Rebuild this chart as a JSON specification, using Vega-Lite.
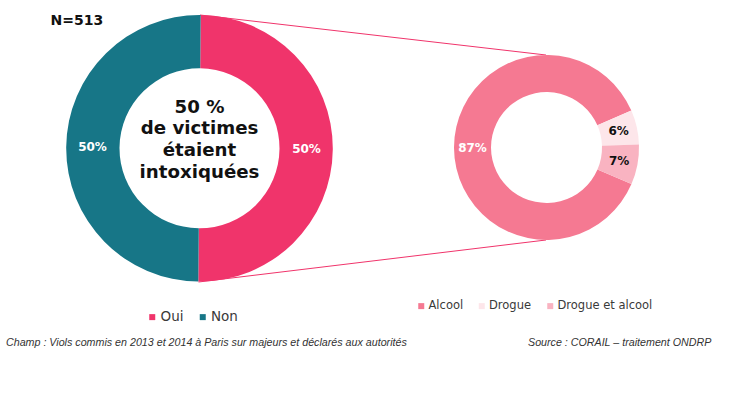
{
  "$schema": "https://vega.github.io/schema/vega-lite/v6.json",
  "width": 742,
  "height": 399,
  "autosize": {"type": "fit", "contains": "padding"},
  "padding": 0,
  "background": "white",
  "config": {"view": {"stroke": null}},
  "datasets": {
    "intox": [
      {"reponse": "Oui", "part": 50, "ordre": 1, "etiquette": "50%"},
      {"reponse": "Non", "part": 50, "ordre": 2, "etiquette": "50%"}
    ],
    "substance": [
      {"type": "Alcool", "part": 87, "ordre": 1, "etiquette": "87%"},
      {"type": "Drogue", "part": 6, "ordre": 2, "etiquette": "6%"},
      {"type": "Drogue et alcool", "part": 7, "ordre": 3, "etiquette": "7%"}
    ],
    "textes": [
      {"cle": "centre", "texte": "50 %\nde victimes\nétaient\nintoxiquées"},
      {"cle": "n", "texte": "N=513"},
      {"cle": "champ", "texte": "Champ : Viols commis en 2013 et 2014 à Paris sur majeurs et déclarés aux autorités"},
      {"cle": "source", "texte": "Source : CORAIL – traitement ONDRP"}
    ]
  },
  "resolve": {
    "scale": {"theta": "independent", "color": "independent"},
    "legend": {"color": "independent"}
  },
  "layer": [
    {
      "data": {"values": [{"lien": "haut"}]},
      "mark": {"type": "rule", "color": "#F0346B", "strokeWidth": 1},
      "encoding": {
        "x": {"datum": 200, "type": "quantitative", "scale": {"domain": [0, 742], "nice": false, "zero": false}, "axis": null},
        "y": {"datum": 15, "type": "quantitative", "scale": {"domain": [0, 399], "nice": false, "zero": false, "reverse": true}, "axis": null},
        "x2": {"datum": 546},
        "y2": {"datum": 55}
      }
    },
    {
      "data": {"values": [{"lien": "bas"}]},
      "mark": {"type": "rule", "color": "#F0346B", "strokeWidth": 1},
      "encoding": {
        "x": {"datum": 198.5, "type": "quantitative", "scale": {"domain": [0, 742], "nice": false, "zero": false}, "axis": null},
        "y": {"datum": 282, "type": "quantitative", "scale": {"domain": [0, 399], "nice": false, "zero": false, "reverse": true}, "axis": null},
        "x2": {"datum": 546},
        "y2": {"datum": 240}
      }
    },
    {
      "data": {"name": "intox"},
      "encoding": {
        "x": {"datum": 199.5, "type": "quantitative", "scale": {"domain": [0, 742], "nice": false, "zero": false}, "axis": null},
        "y": {"datum": 148.3, "type": "quantitative", "scale": {"domain": [0, 399], "nice": false, "zero": false, "reverse": true}, "axis": null},
        "theta": {"field": "part", "type": "quantitative", "stack": true, "scale": {"range": [0.009, 6.2922]}},
        "order": {"field": "ordre", "type": "quantitative"}
      },
      "layer": [
        {
          "mark": {"type": "arc", "radius": 133.3, "radius2": 80},
          "encoding": {
            "color": {
              "field": "reponse",
              "type": "nominal",
              "scale": {"domain": ["Oui", "Non"], "range": ["#F0346B", "#177687"]},
              "legend": {
                "title": null,
                "orient": "none",
                "direction": "horizontal",
                "legendX": 145.5,
                "legendY": 310,
                "padding": 0,
                "symbolType": "square",
                "symbolSize": 36,
                "symbolStrokeWidth": 0,
                "labelFont": "DejaVu Sans",
                "labelFontSize": 13.5,
                "labelColor": "#3a3a3a",
                "labelOffset": 1.5,
                "columnPadding": 12.5
              }
            }
          }
        },
        {
          "mark": {"type": "text", "radius": 107, "font": "DejaVu Sans", "fontWeight": "bold", "fontSize": 12, "color": "white", "align": "center", "baseline": "middle"},
          "encoding": {"text": {"field": "etiquette"}}
        }
      ]
    },
    {
      "data": {"name": "substance"},
      "encoding": {
        "x": {"datum": 546.5, "type": "quantitative", "scale": {"domain": [0, 742], "nice": false, "zero": false}, "axis": null},
        "y": {"datum": 147.5, "type": "quantitative", "scale": {"domain": [0, 399], "nice": false, "zero": false, "reverse": true}, "axis": null},
        "theta": {"field": "part", "type": "quantitative", "stack": true, "scale": {"range": [1.9775, 8.2607]}},
        "order": {"field": "ordre", "type": "quantitative"}
      },
      "layer": [
        {
          "mark": {"type": "arc", "radius": 92.5, "radius2": 55.5},
          "encoding": {
            "color": {
              "field": "type",
              "type": "nominal",
              "scale": {"domain": ["Alcool", "Drogue", "Drogue et alcool"], "range": ["#F57992", "#FDE6EA", "#F9B3C1"]},
              "legend": {
                "title": null,
                "orient": "none",
                "direction": "horizontal",
                "legendX": 415.5,
                "legendY": 300,
                "padding": 0,
                "symbolType": "square",
                "symbolSize": 36,
                "symbolStrokeWidth": 0,
                "labelFont": "DejaVu Sans",
                "labelFontSize": 11.5,
                "labelColor": "#3a3a3a",
                "labelOffset": 1.5,
                "columnPadding": 12.5
              }
            }
          }
        },
        {
          "mark": {"type": "text", "radius": 74, "font": "DejaVu Sans", "fontWeight": "bold", "fontSize": 12, "align": "center", "baseline": "middle"},
          "encoding": {
            "text": {"field": "etiquette"},
            "color": {"condition": {"test": "datum.type === 'Alcool'", "value": "white"}, "value": "#111111"}
          }
        }
      ]
    },
    {
      "data": {"name": "textes"},
      "transform": [{"filter": "datum.cle === 'centre'"}],
      "mark": {"type": "text", "font": "DejaVu Sans", "fontWeight": "bold", "fontSize": 18.2, "lineHeight": 21.7, "lineBreak": "\n", "color": "#111111", "align": "center", "baseline": "middle"},
      "encoding": {
        "x": {"datum": 199.5, "type": "quantitative", "scale": {"domain": [0, 742], "nice": false, "zero": false}, "axis": null},
        "y": {"datum": 107.5, "type": "quantitative", "scale": {"domain": [0, 399], "nice": false, "zero": false, "reverse": true}, "axis": null},
        "text": {"field": "texte"}
      }
    },
    {
      "data": {"name": "textes"},
      "transform": [{"filter": "datum.cle === 'n'"}],
      "mark": {"type": "text", "font": "DejaVu Sans", "fontWeight": "bold", "fontSize": 14, "color": "#111111", "align": "left", "baseline": "middle"},
      "encoding": {
        "x": {"datum": 50.5, "type": "quantitative", "scale": {"domain": [0, 742], "nice": false, "zero": false}, "axis": null},
        "y": {"datum": 21, "type": "quantitative", "scale": {"domain": [0, 399], "nice": false, "zero": false, "reverse": true}, "axis": null},
        "text": {"field": "texte"}
      }
    },
    {
      "data": {"name": "textes"},
      "transform": [{"filter": "datum.cle === 'champ'"}],
      "mark": {"type": "text", "font": "Liberation Sans", "fontStyle": "italic", "fontSize": 10.7, "color": "#333333", "align": "left", "baseline": "middle"},
      "encoding": {
        "x": {"datum": 6, "type": "quantitative", "scale": {"domain": [0, 742], "nice": false, "zero": false}, "axis": null},
        "y": {"datum": 343, "type": "quantitative", "scale": {"domain": [0, 399], "nice": false, "zero": false, "reverse": true}, "axis": null},
        "text": {"field": "texte"}
      }
    },
    {
      "data": {"name": "textes"},
      "transform": [{"filter": "datum.cle === 'source'"}],
      "mark": {"type": "text", "font": "Liberation Sans", "fontStyle": "italic", "fontSize": 10.7, "color": "#333333", "align": "left", "baseline": "middle"},
      "encoding": {
        "x": {"datum": 528, "type": "quantitative", "scale": {"domain": [0, 742], "nice": false, "zero": false}, "axis": null},
        "y": {"datum": 343, "type": "quantitative", "scale": {"domain": [0, 399], "nice": false, "zero": false, "reverse": true}, "axis": null},
        "text": {"field": "texte"}
      }
    }
  ]
}
